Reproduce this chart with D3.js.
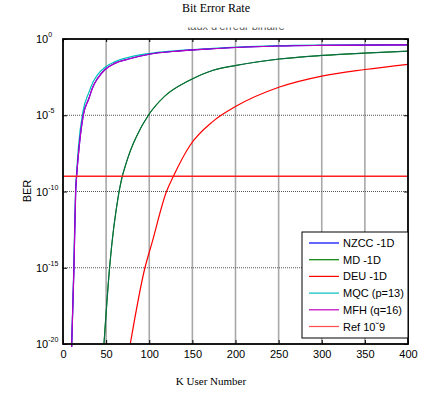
<!DOCTYPE html>
<html>
<head>
<meta charset="utf-8">
<script src="https://cdn.jsdelivr.net/npm/d3@7"></script>
<style>
body { margin:0; background:#fff; }
text { font-family: "Liberation Sans", Arial, sans-serif; }
.serif { font-family: "Liberation Serif", "Times New Roman", serif; }
</style>
</head>
<body>
<svg id="chart"></svg>
<script>
// K users and log10(BER)
var mqcK   = [10, 12.5, 14.5, 15.5, 18, 23, 30, 35, 40, 48.7, 60, 75, 100, 133, 174, 250, 300, 400];
var mqcLog = [-20.2, -15, -10, -9, -7, -4.8, -3.5, -2.8, -2.35, -1.85, -1.5, -1.22, -0.95, -0.76, -0.62, -0.44, -0.4, -0.37];
var mfhK   = [10, 12.7, 14.7, 15.8, 18, 23.5, 30, 35, 40, 48.7, 60, 75, 100, 133, 174, 250, 300, 400];
var mfhLog = [-20.2, -15, -10, -9, -7.5, -5, -3.9, -3.1, -2.6, -2.0, -1.6, -1.33, -1.0, -0.79, -0.64, -0.46, -0.42, -0.39];
var mdK    = [47.5, 54, 65, 75.8, 85.4, 99, 118, 145, 174, 201, 251, 300, 350, 400];
var mdLog  = [-20, -15, -10, -7.7, -6.37, -5, -3.75, -2.76, -2.05, -1.73, -1.31, -1.08, -0.92, -0.8];
var deuK   = [78, 95, 103, 120, 128, 147, 174, 201, 251, 300, 350, 400];
var deuLog = [-20, -15, -13.4, -10, -9, -7.0, -5.4, -4.4, -3.15, -2.43, -2.0, -1.66];
var refLog = -9;

var xTicks = [0, 50, 100, 150, 200, 250, 300, 350, 400];
var yTicks = [0, -5, -10, -15, -20];

var legendNames  = ["NZCC -1D", "MD -1D", "DEU -1D", "MQC (p=13)", "MFH (q=16)", "Ref 10\u02c79"];
var legendColors = ["#0000ff", "#008000", "#ff0000", "#00bfbf", "#bf00bf", "#ff4d4d"];

var screen = {width:433, height:394};
var margins = {top:39, left:63};
var graph = {width:345, height:305};

var svg = d3.select("#chart")
    .attr("width", screen.width)
    .attr("height", screen.height);

var xScale = d3.scaleLinear().domain([0, 400]).range([0, graph.width]);
var yScale = d3.scaleLinear().domain([-20, 0]).range([graph.height, 0]);

// titles
svg.append("text")
    .classed("serif", true)
    .attr("x", 216).attr("y", 12)
    .attr("text-anchor", "middle")
    .attr("font-size", 12)
    .text("Bit Error Rate");

svg.append("clipPath").attr("id", "subclip")
    .append("rect").attr("x", 0).attr("y", 27.5).attr("width", 433).attr("height", 10);
svg.append("text")
    .attr("clip-path", "url(#subclip)")
    .attr("x", 236).attr("y", 30)
    .attr("text-anchor", "middle")
    .attr("font-size", 11)
    .attr("fill", "#555")
    .text("taux d'erreur binaire");

svg.append("text")
    .classed("serif", true)
    .attr("x", 211).attr("y", 385)
    .attr("text-anchor", "middle")
    .attr("font-size", 11)
    .text("K User Number");

svg.append("text")
    .attr("transform", "translate(31,191) rotate(-90)")
    .attr("text-anchor", "middle")
    .attr("font-size", 11)
    .text("BER");

var g = svg.append("g")
    .attr("transform", "translate(" + margins.left + "," + margins.top + ")");

// grid
g.selectAll(".vgrid")
    .data(xTicks.slice(1, -1))
    .enter().append("line")
    .attr("x1", function(d){ return xScale(d); })
    .attr("x2", function(d){ return xScale(d); })
    .attr("y1", 0).attr("y2", graph.height)
    .attr("stroke", "#a8a8a8")
    .attr("stroke-width", 1.6);

g.selectAll(".hgrid")
    .data(yTicks.slice(1, -1))
    .enter().append("line")
    .attr("x1", 0).attr("x2", graph.width)
    .attr("y1", function(d){ return yScale(d); })
    .attr("y2", function(d){ return yScale(d); })
    .attr("stroke", "#555")
    .attr("stroke-width", 1)
    .attr("stroke-dasharray", "1,1");

// curves
var line = d3.line()
    .x(function(d){ return xScale(d[0]); })
    .y(function(d){ return yScale(d[1]); })
    .curve(d3.curveMonotoneX);

var series = [
    {k: deuK, v: deuLog, color: "#ff0000"},
    {k: mdK,  v: mdLog,  color: "#008000"},
    {k: mdK,  v: mdLog,  color: "#0b6b50", w: 1},
    {k: mqcK, v: mqcLog, color: "#00bfbf"},
    {k: mfhK, v: mfhLog, color: "#0000ff"},
    {k: mfhK, v: mfhLog, color: "#bf00bf"}
];

g.selectAll(".curve")
    .data(series)
    .enter().append("path")
    .attr("fill", "none")
    .attr("stroke", function(s){ return s.color; })
    .attr("stroke-width", function(s){ return s.w || 1.2; })
    .attr("d", function(s){ return line(s.k.map(function(k, i){ return [k, s.v[i]]; })); });

g.append("line")
    .attr("x1", 0).attr("x2", graph.width)
    .attr("y1", yScale(refLog)).attr("y2", yScale(refLog))
    .attr("stroke", "#ff2020")
    .attr("stroke-width", 1.3);

// axes
var xAxis = d3.axisBottom(xScale).tickValues(xTicks).tickSize(-4).tickPadding(6).tickFormat(d3.format("d"));
var xa = g.append("g")
    .attr("transform", "translate(0," + graph.height + ")")
    .call(xAxis);
xa.select(".domain").remove();
xa.selectAll("text").attr("font-size", 11).attr("fill", "#000").attr("font-family", "Liberation Sans, Arial, sans-serif");

var xTop = d3.axisTop(xScale).tickValues(xTicks).tickSize(-3).tickFormat("");
g.append("g").call(xTop).select(".domain").remove();

var yAxis = d3.axisLeft(yScale).tickValues(yTicks).tickSize(-4).tickFormat("");
var ya = g.append("g").call(yAxis);
ya.select(".domain").remove();

var yRight = d3.axisRight(yScale).tickValues(yTicks).tickSize(-4).tickFormat("");
g.append("g").attr("transform", "translate(" + graph.width + ",0)").call(yRight).select(".domain").remove();

// y tick labels 10^n
var ylab = g.selectAll(".ylab")
    .data(yTicks)
    .enter().append("text")
    .attr("x", -27)
    .attr("y", function(d){ return yScale(d) + 4; })
    .attr("font-size", 11);
ylab.append("tspan").text("10");
ylab.append("tspan")
    .attr("dy", -6)
    .attr("font-size", 7)
    .text(function(d){ return d; });

// frame
g.append("rect")
    .attr("width", graph.width).attr("height", graph.height)
    .attr("fill", "none")
    .attr("stroke", "#000")
    .attr("stroke-width", 1.8);

// legend
var legend = svg.append("g")
    .attr("transform", "translate(302,232)");
legend.append("rect")
    .attr("width", 106).attr("height", 106)
    .attr("fill", "#fff")
    .attr("stroke", "#000")
    .attr("stroke-width", 1);

var entries = legend.selectAll(".entry")
    .data(legendNames)
    .enter().append("g")
    .attr("transform", function(d, i){ return "translate(0," + (11 + i * 16.7) + ")"; });

entries.append("line")
    .attr("x1", 7).attr("x2", 37)
    .attr("stroke", function(d, i){ return legendColors[i]; })
    .attr("stroke-width", 1.2);

entries.append("text")
    .attr("x", 41).attr("y", 4)
    .attr("font-size", 11)
    .text(function(d){ return d; });
</script>
</body>
</html>
